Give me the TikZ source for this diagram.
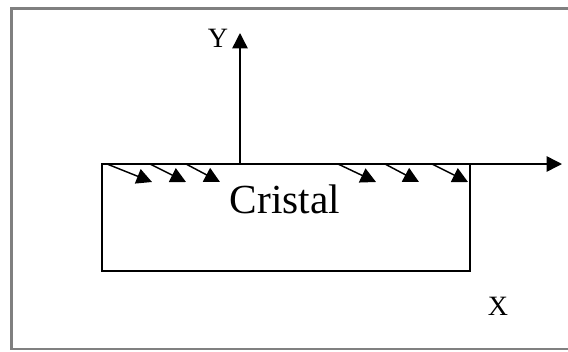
\documentclass[tikz,border=0pt]{standalone}
\usepackage{fontspec}
\setmainfont{Liberation Serif}
\usetikzlibrary{arrows.meta}
\begin{document}
\begin{tikzpicture}[x=0.75pt,y=-0.75pt,
  blk/.style={line width=1.1pt,black},
  axis/.style={blk,-{Triangle[length=11.5pt,width=11.5pt]}},
  ray/.style={blk,-{Triangle[length=11.5pt,width=11.5pt]}},
  lbl/.style={font=\fontsize{21pt}{24pt}\selectfont,inner sep=0pt},
  frame/.style={line width=1.6pt,draw=black!50}]
\useasboundingbox (0,0) rectangle (568,351);
\draw[frame] (580,8.5) -- (11.5,8.5) -- (11.5,349) -- (580,349);
% crystal
\coordinate (tl) at (102,164);
\coordinate (br) at (470,271);
\draw[blk] (tl) rectangle (br);
\node[font=\fontsize{31pt}{34pt}\selectfont,inner sep=0pt,anchor=base] (cristal) at (285,213) {Cristal};
% axes
\coordinate (o) at (240,164);
\coordinate (ytip) at (240,33);
\coordinate (xtip) at (562,164);
\draw[axis] (o) -- (ytip);
\draw[axis] (br |- o) -- (xtip);
\node[lbl,anchor=base] (ylab) at (218,47) {Y};
\node[lbl,anchor=base] (xlab) at (498,315) {X};
% rays
\foreach \a/\b [count=\i] in {107/152,150/186,186/220,338/376,385/419,432/468}{
  \coordinate (s\i) at (\a,164);
  \coordinate (e\i) at (\b,182);
  \draw[ray] (s\i) -- (e\i);
}
\end{tikzpicture}
\end{document}
